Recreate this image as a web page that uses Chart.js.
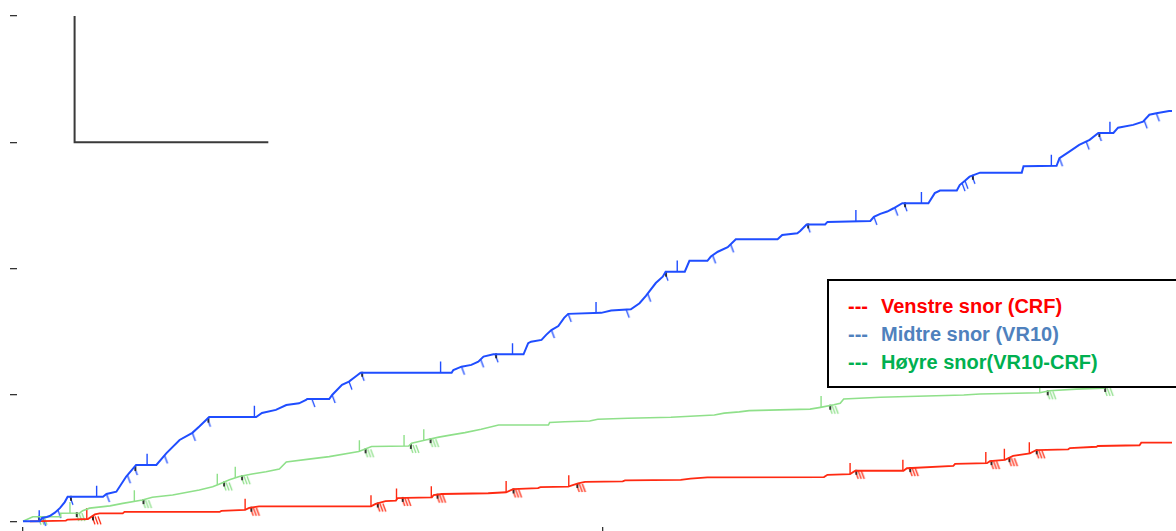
<!DOCTYPE html>
<html>
<head>
<meta charset="utf-8">
<script src="https://cdn.jsdelivr.net/npm/chart.js@4/dist/chart.umd.min.js"></script>
<style>
  html, body { margin: 0; padding: 0; background: #fff; }
  #wrap { position: relative; width: 1176px; height: 531px; overflow: hidden; }
  #chart { display: block; }
  #legend {
    position: absolute; left: 827px; top: 279px; width: 420px; height: 105px;
    border: 2px solid #000; background: #fff; box-sizing: content-box;
    font: bold 20px "Liberation Sans", Arial, sans-serif; line-height: 28px;
  }
  #legend .row { position: absolute; left: 0; white-space: nowrap; }
  #legend .dash { position: absolute; left: 19px; }
  #legend .name { position: absolute; left: 52px; }
</style>
</head>
<body>
<div id="wrap">
  <canvas id="chart" width="1176" height="531"></canvas>
  <div id="legend"></div>
</div>
<script>
// Cumulative curves for the three cords (x: time, y: cumulative amount)
const blueX = [0, 2.9, 3.3, 4.1, 4.6, 5.5, 6.4, 7.2, 7.7, 13.8, 14.4, 16.1, 17.8, 19.5, 23.0, 24.7, 27.0, 29.2, 30.4, 32.1, 40.2, 41.2, 43.6, 45.4, 47.6, 48.8, 49.0, 52.8, 53.3, 55.0, 56.2, 57.3, 58.2, 73.9, 74.2, 75.6, 77.3, 78.5, 79.4, 81.1, 86.3, 87.1, 87.6, 89.4, 90.2, 91.1, 92.3, 93.3, 94.0, 99.7, 101.4, 104.8, 106.3, 107.4, 109.1, 110.3, 110.8, 114.1, 114.9, 118.0, 118.6, 119.8, 121.5, 122.9, 130.1, 130.9, 133.5, 134.0, 135.1, 138.3, 138.7, 146.1, 146.7, 147.8, 149.0, 150.1, 151.6, 156.1, 157.2, 158.1, 161.0, 161.5, 162.4, 163.2, 165.0, 172.2, 172.5, 178.2, 178.7, 180.4, 182.1, 183.9, 185.4, 188.0, 188.8, 191.4, 193.1, 194.2, 195.4, 197.6, 198.5];
const blueY = [0, 0, 1.3, 1.7, 2.1, 3.4, 5.3, 7.6, 9.7, 9.7, 10.8, 11.7, 17.7, 22.3, 22.3, 26.9, 32.2, 35.0, 37.5, 41.3, 41.3, 42.9, 44.1, 46.0, 46.7, 48.0, 48.4, 48.4, 50.0, 54.0, 55.3, 57.2, 58.8, 58.8, 59.9, 61.2, 61.9, 63.2, 65.2, 66.1, 66.1, 70.5, 71.1, 71.8, 73.8, 75.7, 77.3, 80.5, 82.1, 82.5, 83.4, 83.9, 86.3, 89.2, 94.3, 96.8, 98.8, 98.8, 103.1, 103.1, 104.8, 106.7, 108.5, 111.6, 111.6, 113.3, 114.0, 114.9, 117.5, 117.5, 118.5, 118.9, 120.5, 121.7, 122.6, 123.9, 125.9, 125.9, 129.9, 130.9, 130.9, 133.1, 134.8, 136.4, 138.0, 138.0, 140.5, 140.7, 143.7, 146.3, 149.0, 151.0, 153.7, 153.7, 155.8, 156.9, 158.2, 160.9, 161.5, 162.4, 162.4];

const greenX = [0, 1.7, 6.4, 6.5, 9.8, 10.3, 11.5, 15.0, 17.2, 20.6, 22.3, 25.8, 30.4, 32.7, 33.9, 35.6, 37.3, 39.5, 41.9, 44.2, 45.4, 49.3, 52.8, 57.9, 60.1, 66.5, 67.0, 69.4, 71.7, 73.9, 76.2, 79.0, 82.0, 90.6, 90.8, 93.4, 97.7, 99.1, 104.3, 111.7, 119.2, 120.9, 123.5, 125.2, 135.7, 137.5, 139.8, 140.9, 141.5, 147.8, 162.2, 165.0, 175.3, 177.0, 181.6, 186.3, 187.6, 198.5];
const greenY = [0, 1.8, 1.8, 3.2, 3.3, 4.2, 5.2, 6.1, 7.1, 8.4, 9.5, 10.4, 12.4, 13.7, 14.8, 16.4, 17.7, 18.7, 19.6, 20.7, 23.5, 24.6, 25.6, 27.6, 29.6, 29.8, 30.9, 32.2, 33.3, 34.2, 35.1, 36.4, 38.1, 38.1, 39.1, 39.4, 39.7, 40.4, 40.8, 41.2, 42.1, 42.8, 43.3, 43.8, 44.4, 45.1, 46.1, 46.7, 48.4, 49.1, 50.0, 50.4, 50.9, 51.7, 52.3, 52.7, 54.0, 55.2];

const redX = [1.2, 7.4, 7.7, 11.2, 12.4, 13.2, 17.2, 17.5, 33.9, 34.2, 38.3, 39.0, 40.7, 60.0, 60.8, 62.5, 64.3, 64.6, 66.0, 70.5, 70.8, 72.2, 80.2, 83.3, 84.5, 88.8, 89.2, 94.0, 95.7, 96.9, 103.4, 103.8, 113.4, 115.1, 118.0, 138.1, 138.7, 142.6, 143.5, 151.8, 152.4, 160.4, 160.7, 166.2, 166.7, 169.3, 170.7, 173.6, 174.7, 180.2, 180.5, 185.1, 185.3, 192.5, 192.8, 198.5];
const redY = [0, 0.3, 0.7, 0.9, 2.7, 3.1, 3.1, 3.7, 3.7, 4.1, 4.5, 5.3, 5.9, 5.9, 6.9, 8.0, 8.2, 9.2, 9.3, 9.5, 10.4, 10.8, 11.1, 11.5, 12.7, 13.1, 13.5, 13.7, 15.0, 15.6, 15.8, 16.2, 16.4, 16.9, 17.4, 17.5, 18.4, 18.7, 20.0, 20.0, 21.0, 21.9, 22.7, 23.0, 23.8, 24.3, 25.9, 26.9, 28.2, 28.5, 29.0, 29.5, 29.8, 30.1, 31.1, 31.1];

// Event marks: vertical spikes on each curve
const blueSpikes = [2.8, 12.7, 21.4, 39.9, 72.0, 84.4, 98.8, 112.8, 143.6, 154.9, 177.3, 187.4];
const greenSpikes = [8.1, 19.2, 33.5, 36.6, 58.0, 65.7, 69.1, 137.6, 175.3];
const redSpikes = [11.0, 38.3, 60.0, 64.4, 70.4, 83.3, 94.1, 142.6, 151.7, 166.0, 169.2, 173.5];

// Hatch marks below the curves
const blueHatches = [3.4, 6.0, 14.4, 18.0, 24.4, 29.2, 49.8, 53.3, 56.2, 75.6, 78.9, 91.1, 94.0, 104.0, 107.7, 118.9, 122.0, 146.7, 150.3, 161.9, 162.4, 178.7, 183.3, 193.3, 195.4];
const blueHatchesMarked = [8.1, 19.2, 31.8, 58.3, 81.4, 110.7, 135.2, 151.9, 163.6, 185.4];
const greenHatches = [2.6, 9.1, 20.6, 34.5, 37.6, 58.9, 66.7, 70.1, 139.0, 176.5, 186.4];
const redHatches = [11.9, 39.2, 61.0, 65.3, 71.3, 84.4, 95.4, 143.5, 152.8, 166.8, 169.9, 174.6];

// Scale bar corner (x0, x1, y0, y1)
const scaleBarX = [8.9, 42.3];
const scaleBarY = [150, 200];

const xTicks = [0, 100];
const yTicks = [0, 50, 100, 150, 200];

const legendItems = [
  { label: 'Venstre snor (CRF)', color: '#FF0000' },
  { label: 'Midtre snor (VR10)', color: '#4F81BD' },
  { label: 'Høyre snor(VR10-CRF)', color: '#00B050' }
];

const BLUE = '#1f4dff';
const GREEN = '#8fe08a';
const RED = '#ff2a12';
const SPIKE_LEN = 4.4;

function toPoints(xs, ys) { return xs.map((x, i) => ({ x, y: ys[i] })); }

function valueAt(xs, ys, x) {
  if (x <= xs[0]) return ys[0];
  for (let i = 1; i < xs.length; i++) {
    if (x <= xs[i]) {
      const t = (x - xs[i - 1]) / (xs[i] - xs[i - 1] || 1);
      return ys[i - 1] + t * (ys[i] - ys[i - 1]);
    }
  }
  return ys[ys.length - 1];
}

function spikePoints(xs, ys, sx) {
  const pts = [];
  sx.forEach(x => {
    const b = valueAt(xs, ys, x);
    pts.push({ x, y: b }, { x, y: b + SPIKE_LEN }, { x, y: null });
  });
  return pts;
}

function hatchPoints(xs, ys, hx) { return hx.map(x => ({ x, y: valueAt(xs, ys, x) })); }

function hatchMark(color, strokes, marked) {
  const c = document.createElement('canvas');
  c.width = 32; c.height = 32;
  const g = c.getContext('2d');
  g.strokeStyle = color; g.lineWidth = 1.3;
  for (let i = 0; i < strokes; i++) {
    const ox = 16 + i * 3;
    g.beginPath(); g.moveTo(ox, 16); g.lineTo(ox + 3, 24); g.stroke();
  }
  if (marked) {
    g.strokeStyle = '#111'; g.lineWidth = 1.6;
    g.beginPath(); g.moveTo(17, 15); g.lineTo(17, 20); g.stroke();
  }
  return c;
}

const lineDs = (data, color, width) => ({
  type: 'line', data, borderColor: color, borderWidth: width, pointRadius: 0,
  tension: 0, fill: false, spanGaps: false
});
const hatchDs = (data, style) => ({
  type: 'scatter', data, pointStyle: style, pointRadius: 4, showLine: false,
  borderWidth: 0, backgroundColor: 'rgba(0,0,0,0)'
});

const axisGrid = (len) => ({
  display: true, drawOnChartArea: false, drawTicks: true, tickLength: len,
  color: '#333', lineWidth: 1.3
});

new Chart(document.getElementById('chart'), {
  type: 'line',
  data: {
    datasets: [
      lineDs(toPoints(blueX, blueY), BLUE, 2),
      lineDs(toPoints(greenX, greenY), GREEN, 1.6),
      lineDs(toPoints(redX, redY), RED, 1.8),
      lineDs(spikePoints(blueX, blueY, blueSpikes), BLUE, 1.4),
      lineDs(spikePoints(greenX, greenY, greenSpikes), GREEN, 1.4),
      lineDs(spikePoints(redX, redY, redSpikes), RED, 1.4),
      hatchDs(hatchPoints(blueX, blueY, blueHatches), hatchMark(BLUE, 1, false)),
      hatchDs(hatchPoints(blueX, blueY, blueHatchesMarked), hatchMark(BLUE, 1, true)),
      hatchDs(hatchPoints(greenX, greenY, greenHatches), hatchMark(GREEN, 3, true)),
      hatchDs(hatchPoints(redX, redY, redHatches), hatchMark(RED, 3, true)),
      Object.assign(lineDs([
        { x: scaleBarX[0], y: scaleBarY[1] },
        { x: scaleBarX[0], y: scaleBarY[0] },
        { x: scaleBarX[1], y: scaleBarY[0] }
      ], '#3a3a3a', 2), { clip: false })
    ]
  },
  options: {
    responsive: false,
    devicePixelRatio: 1,
    animation: false,
    events: [],
    layout: { padding: { top: 16, left: 0, right: 0, bottom: 0 } },
    plugins: { legend: { display: false }, tooltip: { enabled: false } },
    scales: {
      x: {
        type: 'linear', min: -1.03, max: 198.1,
        afterBuildTicks: s => { s.ticks = xTicks.map(v => ({ value: v })); },
        afterFit: s => { s.height = 4; },
        ticks: { display: false },
        grid: axisGrid(6),
        border: { display: false }
      },
      y: {
        type: 'linear', min: -2.26, max: 200,
        afterBuildTicks: s => { s.ticks = yTicks.map(v => ({ value: v })); },
        afterFit: s => { s.width = 17; },
        ticks: { display: false },
        grid: axisGrid(7),
        border: { display: false }
      }
    }
  }
});

// Legend box
const legend = document.getElementById('legend');
legendItems.forEach((item, i) => {
  const row = document.createElement('div');
  row.className = 'row';
  row.style.top = (11 + i * 28) + 'px';
  row.style.color = item.color;
  row.innerHTML = '<span class="dash">---</span><span class="name"></span>';
  row.querySelector('.name').textContent = item.label;
  legend.appendChild(row);
});
</script>
</body>
</html>
